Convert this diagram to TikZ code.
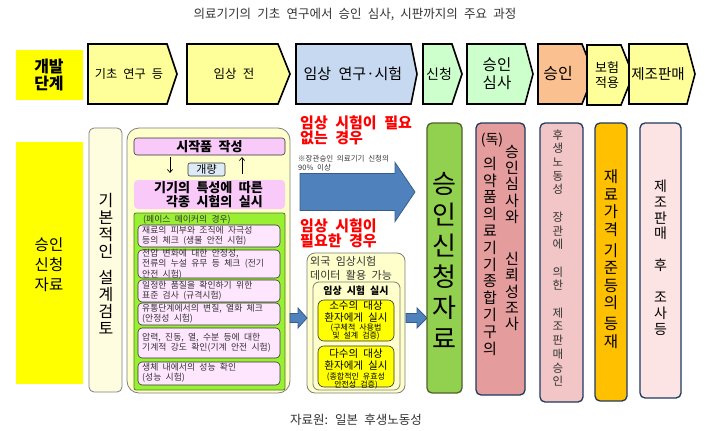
\documentclass[tikz,border=0pt]{standalone}
\usepackage{fontspec}
\setmainfont{Noto Sans CJK KR}[WordSpace=2.2]
\usetikzlibrary{arrows.meta,calc}
\definecolor{yel}{HTML}{FFFF00}
\definecolor{chevY}{HTML}{FFFF99}
\definecolor{chevB}{HTML}{C6D9F1}
\definecolor{chevG}{HTML}{CCFFCC}
\definecolor{chevO}{HTML}{FAC090}
\definecolor{outerY}{HTML}{FFFFCC}
\definecolor{cream}{HTML}{FFFDE0}
\definecolor{pinkA}{HTML}{F9C9F9}
\definecolor{pinkS}{HTML}{FFE6FF}
\definecolor{lime}{HTML}{99F033}
\definecolor{dgreen}{HTML}{4F7A22}
\definecolor{lblue}{HTML}{DDEBF7}
\definecolor{arrfill}{HTML}{4F81BD}
\definecolor{arrline}{HTML}{385D8A}
\definecolor{gcol}{HTML}{92D050}
\definecolor{gborder}{HTML}{4F6228}
\definecolor{dok}{HTML}{E59C9C}
\definecolor{hu}{HTML}{F2C6C6}
\definecolor{jae}{HTML}{FFC000}
\definecolor{jejo}{HTML}{FDE4E4}
\definecolor{navy}{HTML}{1F3A5F}
\definecolor{grayb}{HTML}{7F7F7F}
\definecolor{dtext}{HTML}{333333}
\newcommand\myfs[2]{\fontsize{#1}{#2}\selectfont}
\newcommand\chevron[6]{\draw[chev,fill=#6] (#1,#4) -- (#2,#4) -- (#3,{(#4+#5)/2}) -- (#2,#5) -- (#1,#5) -- cycle;}
\newcommand\bx[6][]{\node[inner sep=0pt,outer sep=0pt,anchor=north west,minimum width={(#5-#3)*1pt},minimum height={(#6-#4)*1pt},#1] (#2) at (#3,#4) {};}
\newcommand\blockarrow[6]{\draw[barrow] (#1,{#3-#4}) -- ({#2-#6},{#3-#4}) -- ({#2-#6},{#3-#5}) -- (#2,#3) -- ({#2-#6},{#3+#5}) -- ({#2-#6},{#3+#4}) -- (#1,{#3+#4}) -- cycle;}
\tikzset{
  chev/.style={draw=black,line width=1.6pt},
  tx/.style={inner sep=0pt,align=center,text=black},
  txl/.style={inner sep=0pt,align=left,anchor=west},
  col/.style={draw=navy,line width=1.3pt,rounded corners=5pt},
  subbox/.style={fill=pinkS,draw=dtext,rounded corners=4pt,line width=0.6pt},
  subtxt/.style={txl,text=dtext,font=\myfs{8.8}{10.3}},
  barrow/.style={fill=arrfill,draw=arrline,line width=0.8pt},
  thinarr/.style={-{Straight Barb[length=3pt,width=5pt]},line width=0.7pt},
}
\begin{document}
\begin{tikzpicture}[x=1pt,y=-1pt]
\useasboundingbox (0,0) rectangle (705,431);
\fill[white] (0,0) rectangle (705,431);
% title
\node[tx,font=\myfs{12.5}{14},text=dtext] (title) at (355,15) {의료기기의 기초 연구에서 승인 심사, 시판까지의 주요 과정};
% top row
\bx[fill=yel]{devlab}{16}{50}{83}{100}
\node[tx,font=\bfseries\myfs{16}{17}] (devtxt) at (49,75) {개발\\단계};
\chevron{88}{167}{177}{44}{104}{chevY}
\node[tx,font=\myfs{12.2}{14}] (t1) at (129,74) {기초 연구 등};
\chevron{187}{278}{290}{44}{104}{chevY}
\node[tx,font=\myfs{12.5}{14}] (t2) at (234,74) {임상 전};
\chevron{296}{411}{417}{44}{104}{chevB}
\node[tx,font=\myfs{15}{16}] (t3) at (353,74) {임상 연구·시험};
\chevron{423}{452}{462}{44}{104}{chevG}
\node[tx,font=\myfs{14}{16}] (t4) at (439,74) {신청};
\chevron{467}{525}{533}{44}{104}{chevG}
\node[tx,font=\myfs{15.5}{18}] (t5) at (497,74) {승인\\심사};
\chevron{538}{582}{594}{44}{104}{chevO}
\node[tx,font=\myfs{16}{17}] (t6) at (558,74) {승인};
\chevron{587}{621}{633}{45}{105}{chevY}
\node[tx,font=\myfs{13}{15}] (t7) at (607,75) {보험\\적용};
\chevron{629}{687}{695}{44}{104}{chevY}
\node[tx,font=\myfs{14.5}{16}] (t8) at (658,74) {제조판매};
% left label
\bx[fill=yel]{applab}{16}{142}{83}{384}
\node[tx,font=\myfs{15.5}{20}] (apptxt) at (49,265) {승인\\신청\\자료};
% basic design column
\bx[fill=cream,draw=grayb,rounded corners=5pt,line width=0.8pt]{kibon}{89}{128}{122}{392}
\node[tx,font=\myfs{16}{17}] (kibontxt) at (106,264) {기\\본\\적\\인\\[9pt]설\\계\\검\\토};
% outer box
\bx[fill=outerY,draw=grayb,rounded corners=12pt,line width=0.8pt]{outerbox}{127}{128}{290}{393}
\bx[fill=pinkA,draw=dtext,rounded corners=3pt,line width=0.6pt]{sijak}{134}{138}{285}{155}
\node[tx,font=\bfseries\myfs{13}{14}] (sijaktxt) at (209.5,146.5) {시작품 작성};
\bx[fill=lblue,draw=dtext,rounded corners=2pt,line width=0.6pt]{gaer}{188}{163}{225}{176}
\node[tx,font=\myfs{11}{12}] (gaertxt) at (206.5,169.5) {개량};
\bx[fill=pinkA,rounded corners=4pt]{gigi}{134}{180}{285}{209}
\node[inner sep=0pt,align=right,font=\bfseries\myfs{13}{14.5}] (gigitxt) at (208.5,194.5) {기기의 특성에 따른\\각종 시험의 실시};
\draw[thinarr] ($(sijak.south west)+(36,2)$) -- ($(gigi.north west)+(36,-7)$);
\draw[thinarr] ($(gigi.north west)+(108,-6)$) -- ($(sijak.south west)+(108,2)$);
\bx[fill=lime,draw=dgreen,rounded corners=2pt,line width=0.8pt]{greenbox}{134}{213}{285}{390}
\node[txl,font=\myfs{8.8}{10},text=dtext] (pacetxt) at (143,219.5) {(페이스 메이커의 경우)};
\bx[subbox]{s1}{138}{225}{280}{247}
\node[subtxt] (s1t) at (142,236) {재료의 피부와 조직에 자극성\\등의 체크 (생물 안전 시험)};
\bx[subbox]{s2}{138}{250}{280}{278}
\node[subtxt] (s2t) at (142,264) {전압 변화에 대한 안정성,\\전류의 누설 유무 등 체크 (전기\\안전 시험)};
\bx[subbox]{s3}{138}{280}{280}{302}
\node[subtxt] (s3t) at (142,291) {일정한 품질을 확인하기 위한\\표준 검사 (규격시험)};
\bx[subbox]{s4}{138}{303}{280}{325}
\node[subtxt] (s4t) at (142,314) {유통단계에서의 변질, 열화 체크\\(안정성 시험)};
\bx[subbox]{s5}{138}{328}{280}{358}
\node[subtxt] (s5t) at (142,343) {압력, 진동, 열, 수분 등에 대한\\기계적 강도 확인(기계 안전 시험)};
\bx[subbox]{s6}{138}{362}{280}{385}
\node[subtxt] (s6t) at (142,373) {생체 내에서의 성능 확인\\(성능 시험)};
% middle
\node[txl,font=\bfseries\myfs{15}{15.5},text=red] (noneed) at (300,130.5) {임상 시험이 필요\\없는 경우};
\node[txl,font=\myfs{7.5}{9},text=dtext] (note) at (298,163.5) {※장관승인 의료기기 신청의\\90\% 이상};
\blockarrow{300}{415}{192}{18.5}{29.5}{20}
\node[txl,font=\bfseries\myfs{15}{15.5},text=red] (need) at (300,233.5) {임상 시험이\\필요한 경우};
\bx[fill=outerY,draw=grayb,rounded corners=8pt,line width=0.8pt]{forbox}{307}{253}{405}{393}
\node[txl,font=\myfs{11}{13.5},text=dtext] (fortxt) at (310,268.5) {외국 임상시험\\데이터 활용 가능};
\bx[fill=outerY,draw=grayb,rounded corners=6pt,line width=0.8pt]{clin}{313}{282}{400}{390}
\node[tx,font=\bfseries\myfs{10}{11}] (clintxt) at (356,291) {임상 시험 실시};
\bx[fill=yel,draw=dtext,rounded corners=6pt,line width=0.6pt]{few}{318}{300}{394}{341}
\node[tx,font=\myfs{10.5}{12}] (fewa) at (356,312) {소수의 대상\\환자에게 실시};
\node[tx,font=\myfs{8}{8.5}] (fewb) at (356,332) {(구체적 사용법\\및 설계 검증)};
\bx[fill=yel,draw=dtext,rounded corners=6pt,line width=0.6pt]{many}{318}{346}{394}{387}
\node[tx,font=\myfs{10.5}{12}] (manya) at (356,360) {다수의 대상\\환자에게 실시};
\node[tx,font=\myfs{8}{8.5}] (manyb) at (356,381) {(종합적인 유효성\\안전성 검증)};
\blockarrow{290}{307}{318}{4.5}{10}{9}
\blockarrow{406}{427}{318}{4.5}{10}{10}
% right columns
\bx[col,fill=gcol,draw=gborder]{gcolbox}{427}{123}{462}{393}
\node[tx,font=\myfs{26}{31}] (gcoltxt) at (444.5,260.5) {승\\인\\신\\청\\자\\료};
\bx[col,fill=dok]{dokbox}{476}{123}{525}{395}
\node[tx,font=\myfs{14}{15}] (dokhead) at (492,140.5) {(독)};
\node[tx,font=\myfs{15}{16.8}] (dokl) at (490,256) {의\\약\\품\\의\\료\\기\\기\\종\\합\\기\\구\\의};
\node[tx,font=\myfs{15}{16.3}] (dokr) at (512,238) {승\\인\\심\\사\\와\\[26pt]신\\뢰\\성\\조\\사};
\bx[col,fill=hu]{hubox}{540}{123}{583}{402}
\node[tx,font=\myfs{11.5}{13.7},text=dtext] (hutxt) at (558,258) {후\\생\\노\\동\\성\\[13.7pt]장\\관\\에\\[13.7pt]의\\한\\[13.7pt]제\\조\\판\\매\\승\\인};
\bx[col,fill=jae]{jaebox}{595}{123}{627}{401}
\node[tx,font=\myfs{15.5}{17.6}] (jaetxt) at (611,259) {재\\료\\가\\격\\[3pt]기\\준\\등\\의\\[3pt]등\\재};
\bx[col,fill=jejo]{jejobox}{640}{123}{681}{398}
\node[tx,font=\myfs{14}{15.9}] (jejotxt) at (660.5,257.5) {제\\조\\판\\매\\[15.9pt]후\\[15.9pt]조\\사\\등};
% source
\node[tx,font=\myfs{12.5}{14},text=dtext] (source) at (356,420) {자료원: 일본 후생노동성};
\end{tikzpicture}
\end{document}
